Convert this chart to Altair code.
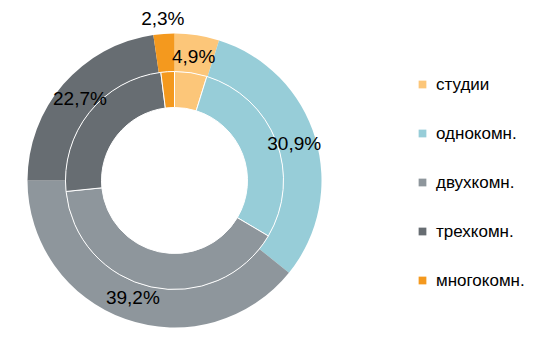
import altair as alt
import pandas as pd

categories = ["студии", "однокомн.", "двухкомн.", "трехкомн.", "многокомн."]
outer_share = [4.9, 30.9, 39.2, 22.7, 2.3]
inner_share = [4.8, 28.7, 39.9, 24.6, 2.0]
label_text = ["4,9%", "30,9%", "39,2%", "22,7%", "2,3%"]
colors = ["#FCC679", "#97CDD8", "#8E969C", "#676D72", "#F4991E"]

df = pd.DataFrame({
    "cat": categories,
    "outer": outer_share,
    "inner": inner_share,
    "label": label_text,
    "idx": list(range(len(categories))),
})

cx, cy = 166.5, 172.5
FONT = "Liberation Sans"
theta_scale = alt.Scale(domain=[0, 100], range=[0, 6.283185307179586])

color = alt.Color(
    "cat:N",
    scale=alt.Scale(domain=categories, range=colors),
    sort=categories,
    legend=alt.Legend(
        title=None, orient="none", legendX=406, legendY=68,
        labelFontSize=17, labelFont=FONT, labelColor="#000000",
        symbolType="square", symbolSize=60, symbolStrokeWidth=0,
        rowPadding=31, labelOffset=5, padding=0,
    ),
)

base = alt.Chart(df)

outer_arc = base.mark_arc(radius=147, radius2=109, x=cx, y=cy).encode(
    theta=alt.Theta("outer:Q", stack=True, scale=theta_scale),
    color=color,
    order=alt.Order("idx:Q"),
)

inner_arc = base.mark_arc(radius=109, radius2=73, x=cx, y=cy, stroke="white", strokeWidth=1).encode(
    theta=alt.Theta("inner:Q", stack=True, scale=theta_scale),
    color=alt.Color("cat:N", scale=alt.Scale(domain=categories, range=colors), legend=None),
    order=alt.Order("idx:Q"),
)

lab_base = base.transform_window(
    cum="sum(outer)", sort=[alt.SortField("idx")]
).transform_calculate(mid="datum.cum - datum.outer/2")

labels_main = lab_base.transform_filter("datum.outer >= 4").mark_text(
    radius=125, x=cx, y=cy, font=FONT, fontSize=19, color="#000000"
).encode(theta=alt.Theta("mid:Q", scale=theta_scale), text="label:N")

labels_small = lab_base.transform_filter("datum.outer < 4").mark_text(
    radius=162, x=cx, y=cy, font=FONT, fontSize=19, color="#000000"
).encode(theta=alt.Theta("mid:Q", scale=theta_scale), text="label:N")

chart = alt.layer(outer_arc, inner_arc, labels_main, labels_small).properties(
    width=535, height=344, autosize=alt.AutoSizeParams(type="none"), padding=0
).configure_view(stroke=None)

chart.save("out.html", embed_options={"renderer": "svg", "actions": False})
